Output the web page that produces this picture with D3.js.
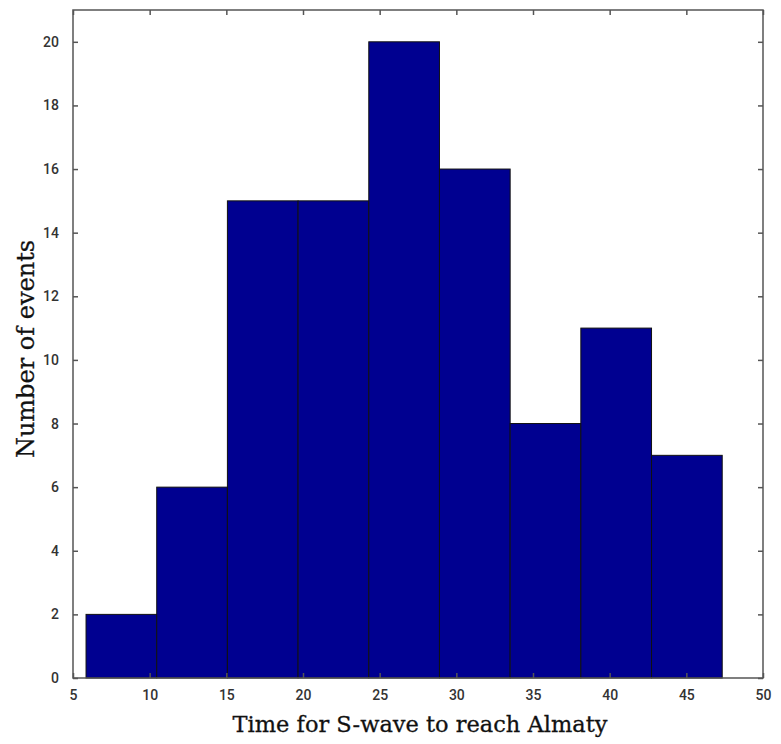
<!DOCTYPE html>
<html>
  <head>
    <meta charset="utf-8">
    <script src="https://cdn.jsdelivr.net/npm/d3@7/dist/d3.min.js"></script>
    <style>
      body { margin: 0; background: white; }
      svg { display: block; }
      .tick text { font-family: Roboto, 'Liberation Sans', sans-serif; font-size: 14px; font-weight: 500; fill: #333; }
      .lbl { font-family: 'DejaVu Serif', serif; fill: #111; stroke: #111; stroke-width: 0.3; }
    </style>
  </head>
  <body>
    <script>
      // histogram bin edges (seconds) and counts
      const binEdges = [5.85, 10.46, 15.07, 19.68, 24.29, 28.9, 33.51, 38.12, 42.73, 47.34]
      const counts = [2, 6, 15, 15, 20, 16, 8, 11, 7]
      const xTicks = [5, 10, 15, 20, 25, 30, 35, 40, 45, 50]
      const yTicks = [0, 2, 4, 6, 8, 10, 12, 14, 16, 18, 20]

      const W = 781, H = 744
      const m = {left: 73, right: 18, top: 10, bottom: 66}

      const svg = d3.select('body').append('svg').attr('width', W).attr('height', H)

      const x = d3.scaleLinear().domain([5, 50]).range([m.left, W - m.right])
      const y = d3.scaleLinear().domain([0, 21]).range([H - m.bottom, m.top])

      const bins = counts.map((c, i) => ({x0: binEdges[i], x1: binEdges[i + 1], n: c}))

      svg.append('g').selectAll('rect')
        .data(bins)
        .join('rect')
        .attr('x', d => x(d.x0))
        .attr('width', d => x(d.x1) - x(d.x0))
        .attr('y', d => y(d.n))
        .attr('height', d => y(0) - y(d.n))
        .attr('fill', '#000090')
        .attr('stroke', '#111')
        .attr('stroke-width', 1)

      // frame
      svg.append('rect')
        .attr('x', x(5)).attr('y', y(21))
        .attr('width', x(50) - x(5)).attr('height', y(0) - y(21))
        .attr('fill', 'none').attr('stroke', '#555').attr('stroke-width', 1.5)

      const tk = 5
      const xb = svg.append('g').attr('transform', `translate(0,${y(0)})`)
        .call(d3.axisBottom(x).tickValues(xTicks).tickSize(-tk).tickPadding(12))
      const xt = svg.append('g').attr('transform', `translate(0,${y(21)})`)
        .call(d3.axisTop(x).tickValues(xTicks).tickSize(-tk).tickFormat(''))
      const yl = svg.append('g').attr('transform', `translate(${x(5)},0)`)
        .call(d3.axisLeft(y).tickValues(yTicks).tickSize(-tk).tickPadding(14))
      const yr = svg.append('g').attr('transform', `translate(${x(50)},0)`)
        .call(d3.axisRight(y).tickValues(yTicks).tickSize(-tk).tickFormat(''))

      ;[xb, xt, yl, yr].forEach(g => {
        g.select('.domain').remove()
        g.selectAll('.tick line').attr('stroke', '#555').attr('stroke-width', 1.5)
      })

      svg.append('text').attr('class', 'lbl')
        .attr('x', 420).attr('y', 732)
        .attr('font-size', 22.5)
        .attr('text-anchor', 'middle')
        .text('Time for S-wave to reach Almaty')

      svg.append('text').attr('class', 'lbl')
        .attr('font-size', 24)
        .attr('transform', `translate(34,349) rotate(-90)`)
        .attr('text-anchor', 'middle')
        .text('Number of events')
    </script>
  </body>
</html>
